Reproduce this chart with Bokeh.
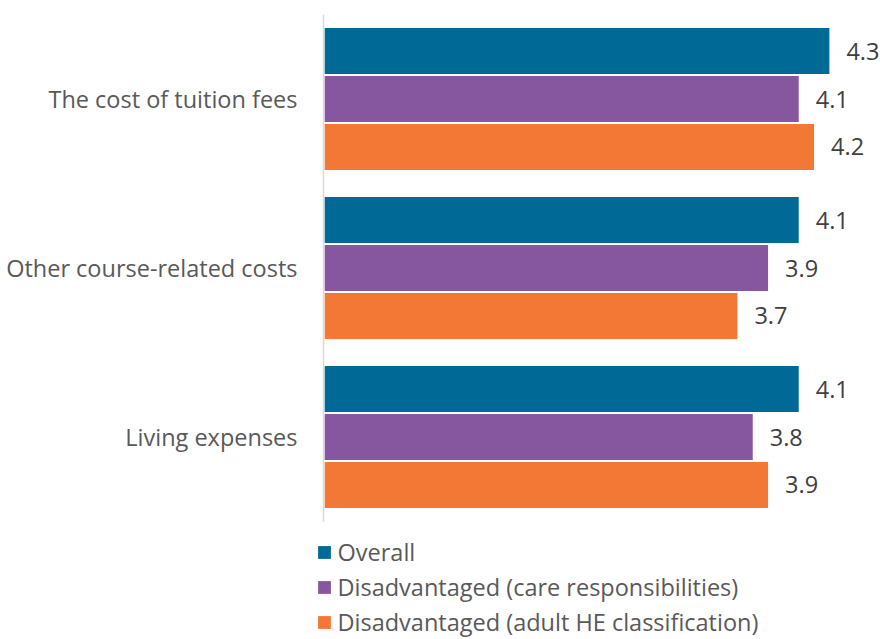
from bokeh.plotting import figure
from bokeh.models import Range1d, FixedTicker, ColumnDataSource, Legend, LegendItem
from bokeh.core.properties import value
from bokeh.embed import file_html
from bokeh.resources import INLINE

categories = ["The cost of tuition fees", "Other course-related costs", "Living expenses"]
series_names = ["Overall", "Disadvantaged (care responsibilities)", "Disadvantaged (adult HE classification)"]
overall = [4.3, 4.1, 4.1]
care = [4.1, 3.9, 3.8]
adult = [4.2, 3.7, 3.9]
colors = ["#006996", "#86579E", "#F37835"]

FONT = "Open Sans"
FSIZE = "23.5px"
X0 = 1.0
PX_PER_UNIT = 153.3
n = len(categories)

p = figure(width=880, height=639, output_backend="svg", toolbar_location=None,
           x_range=Range1d(X0 - 8 / PX_PER_UNIT, X0 + 557 / PX_PER_UNIT),
           y_range=Range1d(n - 625 / 169, n),
           min_border_left=315, min_border_top=14, min_border_bottom=0, min_border_right=0)
p.outline_line_color = None
p.xgrid.visible = False
p.ygrid.visible = False
p.xaxis.visible = False

centers = [n - 0.5 - i for i in range(n)]
p.yaxis.ticker = FixedTicker(ticks=centers)
p.yaxis.major_label_overrides = {c: lab for c, lab in zip(centers, categories)}
p.yaxis.major_tick_line_color = None
p.yaxis.major_tick_out = 0
p.yaxis.major_tick_in = 0
p.yaxis.minor_tick_line_color = None
p.yaxis.axis_line_color = None
p.yaxis.major_label_standoff = 18
p.yaxis.major_label_text_font = FONT
p.yaxis.major_label_text_font_size = FSIZE
p.yaxis.major_label_text_color = "#595959"

# category axis line at the bar baseline
p.segment(x0=[X0], y0=[0], x1=[X0], y1=[n], line_color="#D9D9D9", line_width=1.5)

offsets = [0.284, 0.0, -0.284]
bar_h = 0.272
items = []
for name, vals, col, off in zip(series_names, [overall, care, adult], colors, offsets):
    src = ColumnDataSource(dict(y=[c + off for c in centers], v=vals,
                                lab=[f"{v:.1f}" for v in vals]))
    r = p.hbar(y="y", left=X0 + 0.008, right="v", height=bar_h, source=src,
               fill_color=col, line_color=None)
    p.text(x="v", y="y", text="lab", source=src, x_offset=17,
           text_baseline="middle", text_align="left",
           text_font=value(FONT), text_font_size=FSIZE, text_color="#404040")
    items.append(LegendItem(label=name, renderers=[r]))

legend = Legend(items=items, location=(0.5, 1), orientation="vertical",
                glyph_width=16, glyph_height=16, label_standoff=6,
                label_text_font=FONT, label_text_font_size=FSIZE,
                label_text_color="#595959", spacing=3, padding=0, margin=0,
                border_line_color=None, background_fill_alpha=0)
p.add_layout(legend, "center")

open("out.html", "w").write(file_html(p, INLINE))
